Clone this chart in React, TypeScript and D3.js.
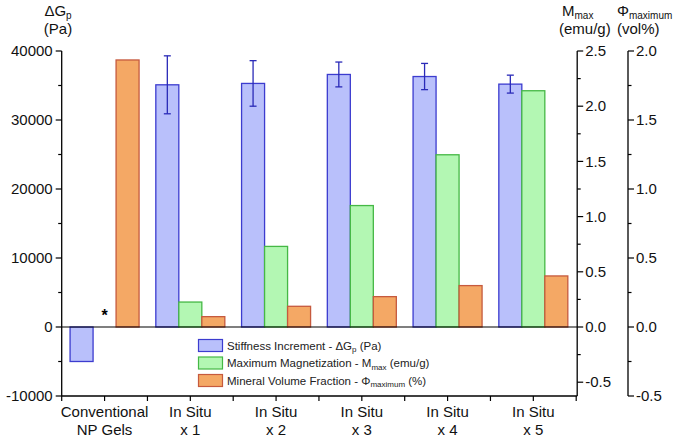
import React from "react";
import * as d3 from "d3";

const categories: string[][] = [
  ["Conventional", "NP Gels"],
  ["In Situ", "x 1"],
  ["In Situ", "x 2"],
  ["In Situ", "x 3"],
  ["In Situ", "x 4"],
  ["In Situ", "x 5"],
];
const stiffness: number[] = [-5000, 35100, 35300, 36600, 36300, 35200];
const stiffnessErr: (number | null)[] = [null, 4200, 3300, 1800, 1900, 1300];
const magnetization: (number | null)[] = [null, 0.226, 0.73, 1.1, 1.56, 2.14];
const volumeFraction: number[] = [1.935, 0.075, 0.15, 0.22, 0.3, 0.37];

const leftTicks = [-10000, 0, 10000, 20000, 30000, 40000];
const midTicks = [-0.5, 0, 0.5, 1.0, 1.5, 2.0, 2.5];
const rightTicks = [-0.5, 0, 0.5, 1.0, 1.5, 2.0];

const FONT = "Liberation Sans, Arial, sans-serif";

const BLUE_FILL = "#b9c0fb";
const BLUE_STROKE = "#3c3ccf";
const GREEN_FILL = "#b3f7b3";
const GREEN_STROKE = "#45b845";
const ORANGE_FILL = "#f4a865";
const ORANGE_STROKE = "#c65a3e";
const ERR = "#2a2ab8";

export default function App() {
  const X0 = 61.7;
  const X1 = 576.2;
  const YT = 51;
  const YB = 396;
  const xR = 628;

  const ids = categories.map((_, i) => String(i));
  const x = d3.scaleBand<string>().domain(ids).range([X0, X1]).padding(0);
  const bw = x.bandwidth();
  const inner = d3
    .scaleBand<string>()
    .domain(["g", "m", "v"])
    .range([bw / 2 - 34.5, bw / 2 + 34.5]);

  const yL = d3.scaleLinear().domain([-10000, 40000]).range([YB, YT]);
  const yM = d3.scaleLinear().domain([-0.625, 2.5]).range([YB, YT]);
  const yR = d3.scaleLinear().domain([-0.5, 2.0]).range([YB, YT]);

  const leftMinor = d3.range(-10000, 40001, 5000);
  const midMinor = d3.range(-0.5, 2.501, 0.25);
  const rightMinor = d3.range(-0.5, 2.001, 0.25);

  const fmt1 = d3.format(".1f");

  const bar = (
    key: string,
    i: number,
    v: number,
    y: d3.ScaleLinear<number, number>,
    fill: string,
    stroke: string
  ) => {
    const bx = (x(String(i)) as number) + (inner(key) as number);
    const y0 = y(0);
    const y1 = y(v);
    return (
      <rect
        key={key + i}
        x={bx}
        y={Math.min(y0, y1)}
        width={inner.bandwidth()}
        height={Math.abs(y1 - y0)}
        fill={fill}
        stroke={stroke}
        strokeWidth={1.3}
      />
    );
  };

  const legendItems = [
    { fill: BLUE_FILL, stroke: BLUE_STROKE, pre: "Stiffness Increment - \u0394G", sub: "p", post: " (Pa)" },
    { fill: GREEN_FILL, stroke: GREEN_STROKE, pre: "Maximum Magnetization - M", sub: "max", post: " (emu/g)" },
    { fill: ORANGE_FILL, stroke: ORANGE_STROKE, pre: "Mineral Volume Fraction - \u03A6", sub: "maximum", post: " (%)" },
  ];

  return (
    <svg
      width={675}
      height={440}
      style={{ position: "absolute", left: 0, top: 0, background: "#fff" }}
      fontFamily={FONT}
    >
      <rect x={0} y={0} width={675} height={440} fill="#fff" />

      {/* bars */}
      {stiffness.map((v, i) => bar("g", i, v, yL, BLUE_FILL, BLUE_STROKE))}
      {magnetization.map((v, i) =>
        v == null ? null : bar("m", i, v, yM, GREEN_FILL, GREEN_STROKE)
      )}
      {volumeFraction.map((v, i) => bar("v", i, v, yR, ORANGE_FILL, ORANGE_STROKE))}

      {/* error bars */}
      {stiffness.map((v, i) => {
        const e = stiffnessErr[i];
        if (e == null) return null;
        const cx = (x(String(i)) as number) + (inner("g") as number) + inner.bandwidth() / 2;
        return (
          <g key={"e" + i} stroke={ERR} strokeWidth={1.3}>
            <line x1={cx} x2={cx} y1={yL(v + e)} y2={yL(v - e)} />
            <line x1={cx - 3.5} x2={cx + 3.5} y1={yL(v + e)} y2={yL(v + e)} />
            <line x1={cx - 3.5} x2={cx + 3.5} y1={yL(v - e)} y2={yL(v - e)} />
          </g>
        );
      })}

      {/* star for missing value */}
      <text
        x={(x("0") as number) + (inner("m") as number) + inner.bandwidth() / 2}
        y={yL(0) - 6}
        fontSize={16}
        fontWeight="bold"
        textAnchor="middle"
        fill="#000"
      >
        *
      </text>

      {/* zero line */}
      <line x1={X0} x2={X1 + 1} y1={yL(0)} y2={yL(0)} stroke="#000" strokeWidth={1.2} />

      {/* bottom axis */}
      <line x1={X0} x2={X1 + 1} y1={YB} y2={YB} stroke="#000" strokeWidth={1.3} />
      {d3.range(0, 13).map((k) => {
        const tx = X0 + (k * bw) / 2;
        return <line key={"bt" + k} x1={tx} x2={tx} y1={YB} y2={YB + 5} stroke="#000" strokeWidth={1.2} />;
      })}
      {categories.map((c, i) => {
        const cx = (x(String(i)) as number) + bw / 2;
        return (
          <text key={"cl" + i} x={cx} textAnchor="middle" fontSize={15} fill="#111">
            <tspan x={cx} y={417}>{c[0]}</tspan>
            <tspan x={cx} y={435}>{c[1]}</tspan>
          </text>
        );
      })}

      {/* left axis */}
      <line x1={X0} x2={X0} y1={YT} y2={YB} stroke="#000" strokeWidth={1.3} />
      {leftMinor.map((t) => {
        const major = leftTicks.includes(t);
        return (
          <line key={"lt" + t} x1={X0} x2={X0 - (major ? 6 : 3.5)} y1={yL(t)} y2={yL(t)} stroke="#000" strokeWidth={1.2} />
        );
      })}
      {leftTicks.map((t) => (
        <text key={"ll" + t} x={X0 - 9} y={yL(t)} dy="0.35em" textAnchor="end" fontSize={15} fill="#111">
          {t}
        </text>
      ))}
      <text x={58} y={16} textAnchor="middle" fontSize={15} fill="#111">
        {"\u0394G"}
        <tspan fontSize={10} dy={3}>p</tspan>
      </text>
      <text x={58} y={34} textAnchor="middle" fontSize={15} fill="#111">
        (Pa)
      </text>

      {/* middle axis */}
      {(() => {
        const xm = X1 + 1;
        return (
          <g>
            <line x1={xm} x2={xm} y1={YT} y2={YB} stroke="#000" strokeWidth={1.3} />
            {midMinor.map((t) => {
              const major = midTicks.some((m) => Math.abs(m - t) < 1e-6);
              return (
                <line key={"mt" + t} x1={xm} x2={xm + (major ? 6 : 3.5)} y1={yM(t)} y2={yM(t)} stroke="#000" strokeWidth={1.2} />
              );
            })}
            {midTicks.map((t) => (
              <text key={"ml" + t} x={xm + 8} y={yM(t)} dy="0.35em" textAnchor="start" fontSize={15} fill="#111">
                {fmt1(t).replace("\u2212", "-")}
              </text>
            ))}
          </g>
        );
      })()}
      <text x={562} y={16} fontSize={15} fill="#111">
        M<tspan fontSize={10} dy={3}>max</tspan>
      </text>
      <text x={559} y={34} fontSize={15} fill="#111">
        (emu/g)
      </text>

      {/* right axis */}
      <line x1={xR} x2={xR} y1={YT} y2={YB} stroke="#000" strokeWidth={1.3} />
      {rightMinor.map((t) => {
        const major = rightTicks.some((m) => Math.abs(m - t) < 1e-6);
        return (
          <line key={"rt" + t} x1={xR} x2={xR + (major ? 6 : 3.5)} y1={yR(t)} y2={yR(t)} stroke="#000" strokeWidth={1.2} />
        );
      })}
      {rightTicks.map((t) => (
        <text key={"rl" + t} x={xR + 8} y={yR(t)} dy="0.35em" textAnchor="start" fontSize={15} fill="#111">
          {fmt1(t).replace("\u2212", "-")}
        </text>
      ))}
      <text x={617} y={16} fontSize={15} fill="#111">
        {"\u03A6"}
        <tspan fontSize={10} dy={3}>maximum</tspan>
      </text>
      <text x={617} y={34} fontSize={15} fill="#111">
        (vol%)
      </text>

      {/* legend */}
      {legendItems.map((it, k) => {
        const ly = 339.5 + k * 17.5;
        return (
          <g key={"lg" + k}>
            <rect x={198.5} y={ly} width={24} height={12} fill={it.fill} stroke={it.stroke} strokeWidth={1.2} />
            <text x={227} y={ly + 10} fontSize={11.5} fill="#222">
              {it.pre}
              <tspan fontSize={8} dy={2.5}>{it.sub}</tspan>
              <tspan dy={-2.5}>{it.post}</tspan>
            </text>
          </g>
        );
      })}
    </svg>
  );
}
